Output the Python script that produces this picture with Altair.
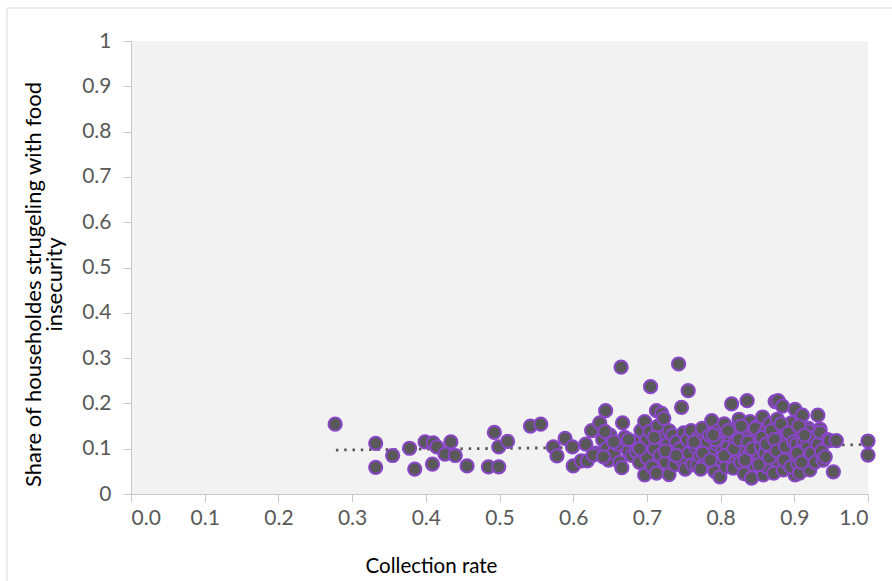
import altair as alt
import pandas as pd

# Collection rate (x) and share of households struggling with food insecurity (y)
xs = [
    0.277, 0.332, 0.332, 0.355, 0.378, 0.385, 0.399, 0.410, 0.415, 0.409,
    0.426, 0.434, 0.440, 0.456, 0.485, 0.499, 0.493, 0.499, 0.511, 0.542,
    0.556, 0.573, 0.589, 0.578, 0.599, 0.617, 0.600, 0.611, 0.619,
    0.625, 0.630, 0.636, 0.640, 0.644, 0.645, 0.648, 0.650, 0.655, 0.627, 0.641, 0.643,
    0.660, 0.663, 0.665, 0.667, 0.666, 0.670, 0.675, 0.680, 0.682, 0.686,
    0.690, 0.692, 0.695, 0.697, 0.697, 0.700, 0.700, 0.655, 0.675, 0.690,
    0.704, 0.705, 0.707, 0.710, 0.713, 0.713, 0.715, 0.718, 0.720, 0.720,
    0.723, 0.725, 0.728, 0.730, 0.730, 0.733, 0.735, 0.738, 0.740, 0.743,
    0.745, 0.747, 0.748, 0.756, 0.750, 0.752, 0.710, 0.725, 0.740,
    0.755, 0.757, 0.760, 0.762, 0.765, 0.768, 0.770, 0.772, 0.775, 0.778,
    0.781, 0.782, 0.785, 0.788, 0.790, 0.792, 0.795, 0.797, 0.799, 0.800,
    0.800, 0.764, 0.773, 0.776, 0.786, 0.793, 0.790,
    0.803, 0.805, 0.807, 0.810, 0.812, 0.815, 0.815, 0.817, 0.820, 0.820,
    0.823, 0.825, 0.827, 0.830, 0.830, 0.832, 0.835, 0.836, 0.838, 0.840,
    0.840, 0.842, 0.845, 0.845, 0.848, 0.850, 0.850, 0.805, 0.810, 0.818,
    0.825, 0.828, 0.833, 0.837, 0.843, 0.847,
    0.853, 0.855, 0.857, 0.858, 0.860, 0.860, 0.863, 0.865, 0.867, 0.870,
    0.872, 0.874, 0.875, 0.877, 0.878, 0.880, 0.880, 0.883, 0.884, 0.885,
    0.887, 0.890, 0.890, 0.893, 0.896, 0.897, 0.900, 0.901, 0.901, 0.852,
    0.856, 0.862, 0.866, 0.869, 0.873, 0.876, 0.882, 0.886, 0.888, 0.892,
    0.895, 0.899,
    0.903, 0.905, 0.907, 0.908, 0.911, 0.912, 0.915, 0.918, 0.919, 0.919,
    0.921, 0.923, 0.925, 0.928, 0.932, 0.932, 0.935, 0.935, 0.937, 0.939,
    0.942, 0.945, 0.948, 0.953, 0.957, 0.904, 0.906, 0.910, 0.914,
    1.000, 1.000,
]
ys = [
    0.154, 0.112, 0.059, 0.085, 0.101, 0.055, 0.115, 0.113, 0.104, 0.066,
    0.088, 0.115, 0.085, 0.062, 0.060, 0.060, 0.136, 0.104, 0.116, 0.150,
    0.154, 0.104, 0.123, 0.084, 0.104, 0.110, 0.062, 0.073, 0.073,
    0.140, 0.090, 0.157, 0.120, 0.184, 0.100, 0.075, 0.130, 0.090, 0.086, 0.082, 0.138,
    0.110, 0.070, 0.280, 0.157, 0.058, 0.125, 0.095, 0.085, 0.115, 0.093,
    0.070, 0.140, 0.105, 0.042, 0.160, 0.120, 0.080, 0.115, 0.120, 0.100,
    0.138, 0.237, 0.060, 0.100, 0.184, 0.046, 0.150, 0.085, 0.178, 0.125,
    0.167, 0.070, 0.110, 0.043, 0.140, 0.090, 0.130, 0.065, 0.115, 0.287,
    0.100, 0.191, 0.075, 0.228, 0.135, 0.055, 0.125, 0.095, 0.085,
    0.120, 0.090, 0.140, 0.065, 0.105, 0.064, 0.125, 0.085, 0.145, 0.100,
    0.068, 0.115, 0.130, 0.162, 0.090, 0.050, 0.110, 0.140, 0.038, 0.075,
    0.120, 0.115, 0.055, 0.090, 0.075, 0.120, 0.130,
    0.095, 0.155, 0.060, 0.105, 0.130, 0.199, 0.080, 0.057, 0.115, 0.145,
    0.090, 0.165, 0.070, 0.125, 0.100, 0.045, 0.140, 0.206, 0.085, 0.110,
    0.160, 0.035, 0.130, 0.065, 0.095, 0.150, 0.120, 0.085, 0.140, 0.100,
    0.120, 0.150, 0.075, 0.115, 0.100, 0.145,
    0.080, 0.105, 0.170, 0.042, 0.135, 0.090, 0.060, 0.115, 0.155, 0.100,
    0.046, 0.204, 0.075, 0.165, 0.206, 0.130, 0.110, 0.090, 0.194, 0.053,
    0.145, 0.120, 0.070, 0.100, 0.157, 0.085, 0.130, 0.187, 0.042, 0.065,
    0.125, 0.110, 0.080, 0.140, 0.120, 0.095, 0.155, 0.075, 0.105, 0.135,
    0.060, 0.115,
    0.110, 0.065, 0.046, 0.095, 0.174, 0.120, 0.080, 0.105, 0.145, 0.139,
    0.053, 0.090, 0.125, 0.070, 0.174, 0.110, 0.143, 0.136, 0.095, 0.075,
    0.082, 0.120, 0.118, 0.049, 0.118, 0.090, 0.150, 0.070, 0.130,
    0.117, 0.086,
]

# Linear trendline endpoints
trend_x = [0.278, 1.0]
trend_y = [0.097, 0.109]

x_ticks = [0.0, 0.1, 0.2, 0.3, 0.4, 0.5, 0.6, 0.7, 0.8, 0.9, 1.0]
y_ticks = [0.0, 0.1, 0.2, 0.3, 0.4, 0.5, 0.6, 0.7, 0.8, 0.9, 1.0]

pts = pd.DataFrame({"x": xs, "y": ys})
trend = pd.DataFrame({"x": trend_x, "y": trend_y})

FONT = "Lato"
W, H = 737, 453

xscale = alt.Scale(domain=[0, 1], nice=False, zero=False)
yscale = alt.Scale(domain=[0, 1], nice=False, zero=False)

xaxis = alt.Axis(
    values=x_ticks, format=".1f", title="Collection rate", grid=False,
    domainColor="#C8C8C8", tickColor="#C8C8C8", tickSize=8, labelPadding=5,
    labelColor="#595959", labelFontSize=21, labelFont=FONT,
    titleFont=FONT, titleFontSize=20.5, titleFontWeight="normal", titleColor="#000000",
    titlePadding=28, titleX=300,
)
yaxis = alt.Axis(
    values=y_ticks, format="~g",
    title=["Share of householdes strugeling with food", "insecurity"],
    grid=False, domainColor="#C8C8C8", tickColor="#C8C8C8", tickSize=8,
    labelPadding=12, labelColor="#595959", labelFontSize=21, labelFont=FONT,
    titleFont=FONT, titleFontSize=22, titleFontWeight="normal", titleColor="#000000",
    titlePadding=15, titleLineHeight=21, titleY=243,
)

frame = alt.Chart(pd.DataFrame({"a": [0]})).mark_rect(
    fill=None, stroke="#D9D9D9", strokeWidth=1
).encode(
    x=alt.value(-124), x2=alt.value(W + 200),
    y=alt.value(-33), y2=alt.value(H + 200),
)

trend_line = alt.Chart(trend).mark_line(
    color="#595959", strokeWidth=2.8, strokeDash=[2.5, 5.8], strokeCap="butt"
).encode(
    x=alt.X("x:Q", scale=xscale, axis=xaxis),
    y=alt.Y("y:Q", scale=yscale, axis=yaxis),
)

points = alt.Chart(pts).mark_point(
    shape="circle", filled=True, fill="#595959", stroke="#8A46C8",
    strokeWidth=2, size=175, opacity=1, fillOpacity=1, strokeOpacity=1,
).encode(
    x=alt.X("x:Q", scale=xscale),
    y=alt.Y("y:Q", scale=yscale),
)

chart = alt.layer(frame, trend_line, points).properties(
    width=W, height=H,
    autosize=alt.AutoSizeParams(type="none"),
    padding={"left": 131, "top": 41, "right": 24, "bottom": 87},
    background="#FFFFFF",
).configure_view(
    fill="#F2F2F2", stroke=None
)

chart.save("out.html", embed_options={"renderer": "svg", "actions": False})
